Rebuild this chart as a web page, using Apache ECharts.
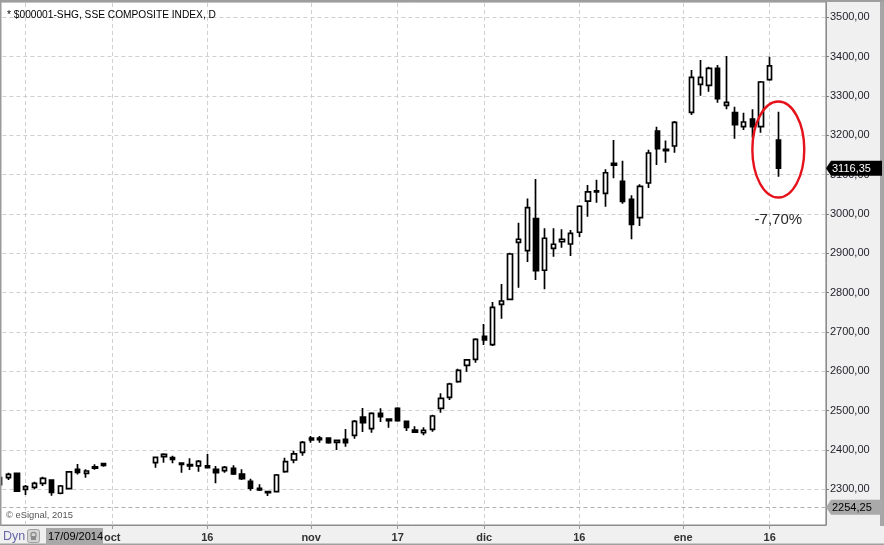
<!DOCTYPE html>
<html><head><meta charset="utf-8">
<script src="https://cdn.jsdelivr.net/npm/echarts@6/dist/echarts.min.js"></script>
<style>html,body{margin:0;padding:0;background:#f0f0f0;}#c{width:884px;height:545px;}</style>
</head><body><div id="c"></div><script>
// ---------------- data ----------------
const dates = ['2014-09-12','2014-09-15','2014-09-16','2014-09-17','2014-09-18','2014-09-19','2014-09-22','2014-09-23','2014-09-24','2014-09-25','2014-09-26','2014-09-29','2014-09-30',
'2014-10-08','2014-10-09','2014-10-10','2014-10-13','2014-10-14','2014-10-15','2014-10-16','2014-10-17','2014-10-20','2014-10-21','2014-10-22','2014-10-23','2014-10-24','2014-10-27','2014-10-28','2014-10-29','2014-10-30','2014-10-31',
'2014-11-03','2014-11-04','2014-11-05','2014-11-06','2014-11-07','2014-11-10','2014-11-11','2014-11-12','2014-11-13','2014-11-14','2014-11-17','2014-11-18','2014-11-19','2014-11-20','2014-11-21','2014-11-24','2014-11-25','2014-11-26','2014-11-27','2014-11-28',
'2014-12-01','2014-12-02','2014-12-03','2014-12-04','2014-12-05','2014-12-08','2014-12-09','2014-12-10','2014-12-11','2014-12-12','2014-12-15','2014-12-16','2014-12-17','2014-12-18','2014-12-19','2014-12-22','2014-12-23','2014-12-24','2014-12-25','2014-12-26','2014-12-29','2014-12-30','2014-12-31',
'2015-01-05','2015-01-06','2015-01-07','2015-01-08','2015-01-09','2015-01-12','2015-01-13','2015-01-14','2015-01-15','2015-01-16','2015-01-19'];
const opens = [2312,2329.6,2340.7,2300,2305,2315,2323.7,2290,2302,2351,2340.7,2357,2365.3,
2367.7,2383,2380.5,2367,2362.7,2359.4,2359.4,2351,2347.4,2353.5,2339,2320.5,2302.7,2294,2294,2344.9,2374.6,2394.2,
2430.1,2430,2430,2419.6,2427.3,2437.3,2483.8,2454.1,2493.2,2478.8,2506,2472.9,2450.8,2443.9,2452.5,2506,2533.9,2573.7,2615.4,2630.6,
2689.1,2667.8,2770.5,2783.2,2928.1,2907.1,2988.5,2857.1,2912.9,2929.7,2923.8,2953.7,3032.6,3059,3052.7,3128.7,3083.2,3037.4,2991,3078.9,3211,3164.6,3172.9,
3258.6,3329.8,3327.3,3370.5,3276.4,3257.6,3222,3241.6,3222,3341.5,3188.2];
const closes = [2330,2338.2,2295.6,2306.7,2315,2328,2292.5,2308.5,2344.4,2343.3,2346.6,2354,2361.1,
2381.4,2389,2376.4,2363.6,2359.4,2371.3,2355,2342.3,2356,2339,2327,2302.7,2298.3,2291.4,2336.4,2370.3,2389.9,2419.6,
2425.8,2426,2418.6,2424.6,2418.6,2472.9,2469.3,2493.2,2484.6,2474.5,2474.5,2457.6,2445.7,2450,2486.4,2531.5,2567.8,2602.7,2628.9,2681.5,
2679.7,2762.8,2778.9,2898.4,2935.8,3016.5,2856.3,2938.4,2923.1,2935.8,2951,3019.8,3056.2,3056,3105,3124.2,3032.3,2973.9,3070.5,3155.2,3166,3161,3233.2,
3347.6,3347.6,3370.5,3293.2,3284,3227.1,3234,3222,3335.7,3376.5,3116.35];
const lows = [2308,2323.7,2293,2285.6,2300,2308.5,2283.8,2287.4,2300,2338,2329.6,2350,2357.6,
2355,2367.7,2366,2342.3,2349.2,2344.9,2354,2315.3,2342.3,2336.4,2323.7,2296.5,2295.6,2283,2293.2,2342.3,2366,2385.5,
2418.6,2418.6,2416,2400,2408.4,2428.4,2445.7,2443.9,2471.2,2456.7,2472,2448.3,2445,2437.3,2446.5,2494.9,2527.2,2571.2,2599.1,2622,
2667,2664.4,2733.8,2781.5,2812.6,2878.2,2832.2,2808.6,2891.5,2914.4,2893.3,2941.8,2993,3028.8,3018.5,3090.9,3026.3,2935.7,2969.5,3066.2,3124.8,3130.4,3156,
3251.8,3300.8,3311,3283,3266.3,3191.5,3213.6,3194,3206.8,3339,3094.9];
const highs = [2333,2342.3,2342,2311,2319.4,2332,2324.5,2311,2346,2364.4,2351,2364,2367.8,
2382,2391.6,2385.5,2368,2378.9,2374.6,2389.9,2359.4,2359.4,2361,2351,2327,2312.7,2294.5,2339,2380.5,2398.4,2422.9,
2435.6,2435.6,2432,2424.6,2453.4,2476.2,2506.7,2495.7,2506,2479,2508.6,2474.5,2460.2,2457.6,2489.8,2544.2,2571.2,2606.8,2631.4,2684,
2720.4,2776.3,2822,2901.7,2978,3039.4,3089,2963.7,2963.7,2961.2,2959.4,3022.4,3073.8,3087,3114,3188.3,3135.3,3047.6,3075.6,3163.2,3222.2,3187,3236.5,
3366.2,3391.6,3374.6,3378.9,3401.8,3272.9,3257.6,3266.3,3338.2,3400,3260.2];

const yTicks = [2300,2400,2500,2600,2700,2800,2900,3000,3100,3200,3300,3400,3500];
const xTickDates = ['2014-10-01','2014-10-16','2014-11-03','2014-11-17','2014-12-01','2014-12-16','2015-01-02','2015-01-16'];
const xTickLabels = ['oct','16','nov','17','dic','16','ene','16'];
const cursorDate = '2014-09-17';
const axisStart = [2014, 8, 12];      // first weekday slot on the axis
const slotCount = 96;                 // weekday slots shown
const removedDays = ['2015-01-01'];   // days with no slot on the axis
const refLevel = 2254.25;
const titleText = '* $000001-SHG, SSE COMPOSITE INDEX, D';
const yMin = 2209.3, yMax = 3539.1;
const circlePrice = 3164, circleHalfPrice = 122, circleHalfSlots = 3;
const pctLabelPrice = 2985;

// ---------------- build ----------------
const FONT = "'Liberation Sans', Arial, sans-serif";
function fmt(v){ return v.toFixed(2).replace('.', ','); }
const slots = [];
let d = new Date(Date.UTC(axisStart[0], axisStart[1], axisStart[2]));
while (slots.length < slotCount) {
  const wd = d.getUTCDay();
  const s = d.toISOString().slice(0,10);
  if (wd !== 0 && wd !== 6 && removedDays.indexOf(s) < 0) slots.push(s);
  d = new Date(d.getTime() + 86400000);
}
const candleData = slots.map(function(s){
  const i = dates.indexOf(s);
  return i < 0 ? ['-','-','-','-'] : [opens[i], closes[i], lows[i], highs[i]];
});
const isTick = function(idx, val){ return xTickDates.indexOf(val) >= 0; };
const vLines = [cursorDate].concat(xTickDates).map(function(v){ return {xAxis: v}; });

const chart = echarts.init(document.getElementById('c'), null, {renderer: 'canvas'});
chart.setOption({
  animation: false,
  backgroundColor: '#f0f0f0',
  grid: {left: -4.6, top: 2, width: 830.5, height: 523, containLabel: false, outerBoundsMode: 'none',
         show: true, backgroundColor: '#ffffff', borderColor: '#8c8c8c', borderWidth: 1},
  xAxis: {
    type: 'category', data: slots, boundaryGap: true,
    axisLine: {show: true, lineStyle: {color: '#8c8c8c'}},
    axisTick: {show: true, alignWithLabel: true, interval: isTick, length: 4, lineStyle: {color: '#999'}},
    axisLabel: {interval: isTick, margin: 7, fontWeight: 'bold', fontSize: 11, color: '#333', fontFamily: FONT,
      formatter: function(v){ return xTickLabels[xTickDates.indexOf(v)]; }},
    splitLine: {show: false}
  },
  yAxis: {
    type: 'value', position: 'right', min: yMin, max: yMax,
    axisLine: {show: true, lineStyle: {color: '#8c8c8c'}},
    axisTick: {show: true, customValues: yTicks, length: 3, lineStyle: {color: '#777'}},
    axisLabel: {customValues: yTicks, margin: 4, fontSize: 11, color: '#1e1e28', fontFamily: FONT,
      formatter: function(v){ return fmt(v); }},
    splitLine: {show: true, lineStyle: {type: [4,3], color: '#d0d0d0', width: 1}}
  },
  series: [{
    type: 'candlestick', data: candleData, barWidth: 4.8, silent: true,
    itemStyle: {color: '#ffffff', color0: '#000000', borderColor: '#000000', borderColor0: '#000000', borderWidth: 1.7},
    markLine: {
      silent: true, z: 1, symbol: ['none','none'], label: {show: false}, animation: false,
      lineStyle: {type: [4,3], color: '#d0d0d0', width: 1},
      data: vLines.concat([{yAxis: refLevel, lineStyle: {type: [4,3], color: '#b0b0b0', width: 1}}])
    }
  }]
});

// ---------------- annotations ----------------
const n = dates.length;
const lastDate = dates[n - 1];
const lastClose = closes[n - 1];
const pct = (closes[n - 1] / closes[n - 2] - 1) * 100;
const pLast = chart.convertToPixel({gridIndex: 0}, [lastDate, lastClose]);
const pRef = chart.convertToPixel({gridIndex: 0}, [lastDate, refLevel]);
const pC = chart.convertToPixel({gridIndex: 0}, [lastDate, circlePrice]);
const pCtop = chart.convertToPixel({gridIndex: 0}, [lastDate, circlePrice + circleHalfPrice]);
const li = slots.indexOf(lastDate);
const pCside = chart.convertToPixel({gridIndex: 0}, [slots[li + circleHalfSlots], circlePrice]);
const pPct = chart.convertToPixel({gridIndex: 0}, [lastDate, pctLabelPrice]);
function tag(y, fill, textFill, label){
  return [
    {type: 'polygon', z: 100, shape: {points: [[826, y], [831, y - 7.5], [882, y - 7.5], [882, y + 7.5], [831, y + 7.5]]}, style: {fill: fill}},
    {type: 'text', z: 101, style: {text: label, x: 832, y: y + 0.5, fill: textFill, font: '11px ' + FONT,
      verticalAlign: 'middle', textVerticalAlign: 'middle'}}
  ];
}
function dmy(s){ const p = s.split('-'); return p[2] + '/' + p[1] + '/' + p[0]; }
const g = [
  {type: 'rect', z: 90, shape: {x: 0, y: 0, width: 884, height: 2}, style: {fill: '#9e9e9e'}},
  {type: 'rect', z: 90, shape: {x: 0, y: 0, width: 1.5, height: 526}, style: {fill: '#9a9a9a'}},
  {type: 'rect', z: 90, shape: {x: 880, y: 2, width: 4, height: 524}, style: {fill: '#a6a6a6'}},
  {type: 'rect', z: 90, shape: {x: 0, y: 543.5, width: 884, height: 1.5}, style: {fill: '#a0a0a0'}},
  {type: 'text', z: 100, style: {text: titleText, x: 7, y: 15, fill: '#000', font: '10.2px ' + FONT, verticalAlign: 'middle', textVerticalAlign: 'middle'}},
  {type: 'text', z: 100, style: {text: '\u00a9 eSignal, 2015', x: 6, y: 515.5, fill: '#555', font: '9.4px ' + FONT, verticalAlign: 'middle', textVerticalAlign: 'middle'}},
  {type: 'text', z: 100, style: {text: 'Dyn', x: 3, y: 536.5, fill: '#6767a8', font: '12.5px ' + FONT, verticalAlign: 'middle', textVerticalAlign: 'middle'}},
  {type: 'rect', z: 100, shape: {x: 27.5, y: 529.5, width: 12, height: 13, r: 2}, style: {fill: '#d4d4d4', stroke: '#a0a0a0', lineWidth: 1}},
  {type: 'circle', z: 101, shape: {cx: 33.5, cy: 535, r: 2.6}, style: {fill: 'none', stroke: '#8a8a8a', lineWidth: 1.2}},
  {type: 'rect', z: 101, shape: {x: 31, y: 536, width: 5, height: 4}, style: {fill: '#8a8a8a'}},
  {type: 'rect', z: 100, shape: {x: 46, y: 528, width: 57, height: 17}, style: {fill: '#a8a8a8'}},
  {type: 'text', z: 101, style: {text: dmy(cursorDate), x: 48, y: 537, fill: '#000', font: '11px ' + FONT, verticalAlign: 'middle', textVerticalAlign: 'middle'}},
  {type: 'ellipse', z: 100, shape: {cx: pC[0], cy: pC[1], rx: Math.abs(pCside[0] - pC[0]), ry: Math.abs(pC[1] - pCtop[1])},
    style: {fill: 'none', stroke: '#e5121b', lineWidth: 2.4}},
  {type: 'text', z: 100, style: {text: pct.toFixed(2).replace('.', ',') + '%', x: pPct[0], y: pPct[1], fill: '#2a2a2a', font: '15px ' + FONT,
    align: 'center', textAlign: 'center', verticalAlign: 'middle', textVerticalAlign: 'middle'}}
].concat(tag(pLast[1], '#000000', '#ffffff', fmt(lastClose))).concat(tag(pRef[1], '#a9a9a9', '#000000', fmt(refLevel)));
chart.setOption({graphic: g});
</script></body></html>
